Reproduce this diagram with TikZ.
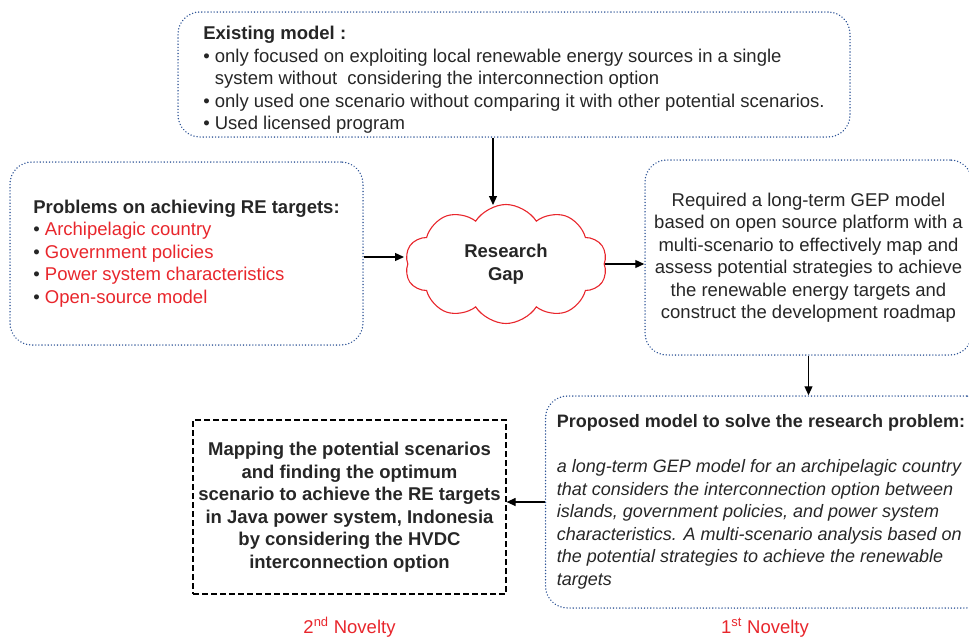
\documentclass[tikz,border=0pt]{standalone}
\usepackage{fontspec}
\setmainfont{Liberation Sans}
\usetikzlibrary{shapes, shapes.geometric, shapes.symbols, shapes.misc}
\usetikzlibrary{arrows.meta, calc, positioning}

\definecolor{gapred}{RGB}{232,38,44}
\definecolor{boxblue}{RGB}{47,85,151}
\definecolor{txtgray}{RGB}{38,38,38}

\begin{document}
\begin{tikzpicture}[
    x = 1pt, y = -1pt,
    line width = 1.2pt,
    every node/.style = {font = \fontsize{18.5}{22.5}\selectfont, text = txtgray},
    dotbox/.style = {draw = boxblue, line width = 1.5pt, line cap = round,
        dash pattern = on 0.1pt off 3pt, rounded corners = 22pt,
        inner xsep = 4pt, inner ysep = 0pt},
    dashbox/.style = {draw = black, line width = 1.2pt,
        dash pattern = on 6pt off 3pt, inner xsep = 4pt, inner ysep = 0pt},
    gap/.style = {cloud, draw = gapred, line width = 1.1pt, cloud puffs = 10,
        cloud puff arc = 115, cloud ignores aspect, align = center},
    arr/.style = {-{Triangle[length = 9pt, width = 8pt]}, black, line width = 1.2pt},
    novelty/.style = {text = gapred, anchor = base}
    ]

    % Determines the boundries
    \useasboundingbox (0,0) rectangle (969,637);

    \def\bul{\textbullet\ }                 % bullet
    \def\ind{\hspace*{11.6pt}}              % indent after bullet
    \def\pml#1{{\fontsize{18}{22.5}\selectfont\itshape #1}}  % italic lines

    % Where the arrows meet the cloud
    \coordinate (gapTop) at (493,205);
    \coordinate (gapIn) at (404,257);

    % Existing model
    \node (EX) at (514,74.5) [dotbox, minimum width = 672, minimum height = 125,
        align = left]
        {\rule{0pt}{24pt}\textbf{Existing model :}\\
         \bul only focused on exploiting local renewable energy sources in a single\\
         \ind system without\ \ considering the interconnection option\\
         \bul only used one scenario without comparing it with other potential scenarios.\\
         \bul Used licensed program};

    % Problems
    \node (PB) at (186.5,253.5) [dotbox, minimum width = 353, minimum height = 183,
        align = left]
        {\textbf{Problems on achieving RE targets:}\\
         \bul\textcolor{gapred}{Archipelagic country}\\
         \bul\textcolor{gapred}{Government policies}\\
         \bul\textcolor{gapred}{Power system characteristics}\\
         \bul\textcolor{gapred}{Open-source model}};

    % Research gap
    \node (RG) at (506,264) [gap, minimum width = 202, minimum height = 119]
        {\textbf{Research}\\ \textbf{Gap}};

    % Requirement
    \node (RQ) at (808.5,257.5) [dotbox, minimum width = 327, minimum height = 195,
        align = center]
        {Required a long-term GEP model\\
         based on open source platform with a\\
         multi-scenario to effectively map and\\
         assess potential strategies to achieve\\
         the renewable energy targets and\\
         construct the development roadmap};

    % Proposed model
    \node (PM) at (767,502) [dotbox, minimum width = 443, minimum height = 212,
        align = left]
        {{\fontsize{18}{22.5}\selectfont\bfseries Proposed model to solve the research problem:}\hspace*{12pt}\\[22.5pt]
         \pml{a long-term GEP model for an archipelagic country}\\
         \pml{that considers the interconnection option between}\\
         \pml{islands, government policies, and power system}\\
         \pml{characteristics. A multi-scenario analysis based on}\\
         \pml{the potential strategies to achieve the renewable}\\
         \pml{targets}};

    % Mapping
    \node (MP) at (349.5,507) [dashbox, minimum width = 313, minimum height = 174,
        align = center, font = \fontsize{18.5}{22.5}\selectfont\bfseries]
        {Mapping the potential scenarios\\
         and finding the optimum\\
         scenario to achieve the RE targets\\
         in Java power system, Indonesia\\
         by considering the HVDC\\
         interconnection option};

    % Arrows
    \draw[arr] (EX.south -| gapTop) -- (gapTop);
    \draw[arr] (PB.east |- gapIn) -- (gapIn);
    \draw[arr] (RG.east) -- (RG.east -| RQ.west);
    \draw[arr] (RQ.south) -- (RQ.south |- PM.north);
    \draw[arr] (PM.west) -- (PM.west -| MP.east);

    % Novelty labels
    \foreach \k/\sx/\px in {2/nd/349.5, 1/st/765}{
        \node (NV\k) at (\px,633) [novelty] {\k\textsuperscript{\sx} Novelty};
    }
\end{tikzpicture}
\end{document}
